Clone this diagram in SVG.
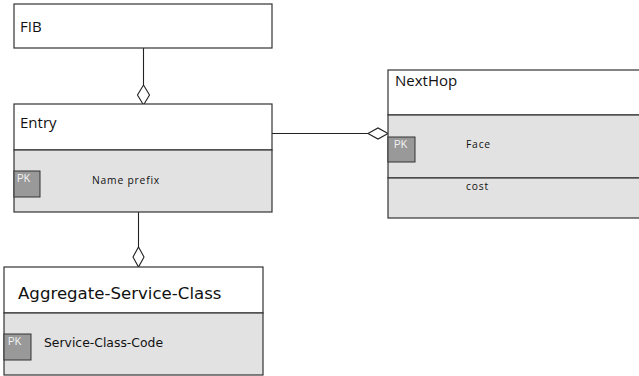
<svg xmlns="http://www.w3.org/2000/svg" width="639" height="376" viewBox="0 0 639 376">
<style>
.hdr{fill:#ffffff;stroke:#333333;stroke-width:1.2}
.body{fill:#e2e2e2;stroke:#333333;stroke-width:1.2}
.pk{fill:#999999;stroke:#333333;stroke-width:1}
.pkt{font-family:"Liberation Sans",Arial,sans-serif;font-size:10px;fill:#f2f2f2}
.title{font-family:"Open Sans","Liberation Sans",sans-serif;font-size:15px;fill:#111}
.attr{font-family:"Open Sans","Liberation Sans",sans-serif;font-size:10.3px;fill:#111;letter-spacing:0.8px}
.conn{stroke:#222;stroke-width:1.1;fill:none}
.dia{fill:#ffffff;stroke:#222;stroke-width:1.1}
</style>
<rect width="639" height="376" fill="#ffffff"/>
<g id="connectors">
<line class="conn" x1="143.5" y1="48" x2="143.5" y2="85"/>
<polygon class="dia" points="143.5,85 149.5,95 143.5,105 137.5,95"/>
<line class="conn" x1="272" y1="133.5" x2="368" y2="133.5"/>
<polygon class="dia" points="368,133.5 378,128 388,133.5 378,139"/>
<line class="conn" x1="138.5" y1="212" x2="138.5" y2="247"/>
<polygon class="dia" points="138.5,247 144,257 138.5,267 133,257"/>
</g>
<g id="fib">
<rect class="hdr" x="14" y="4" width="258" height="44"/>
<text class="title" x="20" y="32">FIB</text>
</g>
<g id="entry">
<rect class="hdr" x="14" y="104" width="258" height="46"/>
<rect class="body" x="14" y="150" width="258" height="62"/>
<text class="title" x="20" y="128">Entry</text>
<rect class="pk" x="14" y="171" width="26" height="26"/>
<text class="pkt" x="17" y="182">PK</text>
<text class="attr" x="92" y="184">Name prefix</text>
</g>
<g id="nexthop">
<rect class="hdr" x="388" y="70" width="260" height="45"/>
<rect class="body" x="388" y="115" width="260" height="63"/>
<rect class="body" x="388" y="178" width="260" height="40"/>
<text class="title" x="395" y="86">NextHop</text>
<rect class="pk" x="388" y="137" width="27" height="25"/>
<text class="pkt" x="394" y="148">PK</text>
<text class="attr" x="466" y="148">Face</text>
<text class="attr" x="466" y="190">cost</text>
</g>
<g id="aggregate">
<rect class="hdr" x="4" y="267" width="259" height="46"/>
<rect class="body" x="4" y="313" width="259" height="62"/>
<text x="18" y="299" style="font-family:'DejaVu Sans',Verdana,sans-serif;font-size:16.6px;fill:#111">Aggregate-Service-Class</text>
<rect class="pk" x="4" y="334" width="27" height="26"/>
<text class="pkt" x="8" y="345">PK</text>
<text x="44" y="347" style="font-family:'DejaVu Sans',Verdana,sans-serif;font-size:12.4px;fill:#111">Service-Class-Code</text>
</g>
</svg>
